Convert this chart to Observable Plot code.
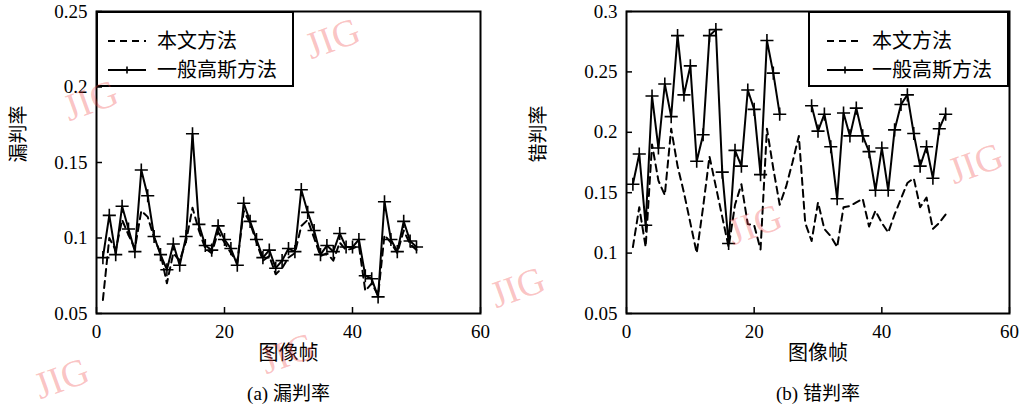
<!DOCTYPE html>
<html>
<head>
<meta charset="utf-8">
<script src="https://cdn.jsdelivr.net/npm/d3@7"></script>
<script src="https://cdn.jsdelivr.net/npm/@observablehq/plot@0.6"></script>
<style>
  body { margin: 0; background: #fff; }
  #wrap { position: relative; width: 1021px; height: 415px; overflow: hidden; background: #fff; }
  .panel { position: absolute; top: 0; }
  .panel g[aria-label="x-axis tick label"] text,
  .panel g[aria-label="y-axis tick label"] text { font-family: "Liberation Serif", "Times New Roman", serif; }
  .legend { position: absolute; }
  .wm { position: absolute; font-family: "Liberation Serif", serif; font-size: 38px; line-height: 1; color: rgba(240, 70, 70, 0.32); pointer-events: none; white-space: nowrap; transform-origin: center; }
</style>
</head>
<body>
<div id="wrap"></div>
<script>
// ---------- data ----------
const frames = [1,2,3,4,5,6,7,8,9,10,11,12,13,14,15,16,17,18,19,20,21,22,23,24,25,26,27,28,29,30,31,32,33,34,35,36,37,38,39,40,41,42,43,44,45,46,47,48,49,50];
const seriesNames = ["本文方法", "一般高斯方法"];
const xTicks = [0, 20, 40, 60];
const xLabel = "图像帧";

// (a) 漏判率
const leftYTicks = [0.05, 0.1, 0.15, 0.2, 0.25];
const leftOurs  = [0.059,0.100,0.092,0.112,0.102,0.093,0.118,0.114,0.100,0.090,0.070,0.090,0.085,0.098,0.120,0.105,0.093,0.090,0.104,0.097,0.090,0.084,0.118,0.110,0.097,0.085,0.088,0.076,0.080,0.087,0.090,0.108,0.112,0.100,0.088,0.090,0.085,0.097,0.092,0.093,0.095,0.065,0.070,0.062,0.102,0.097,0.090,0.105,0.096,0.092];
const leftGauss = [0.087,0.115,0.089,0.121,0.106,0.091,0.145,0.128,0.101,0.089,0.079,0.096,0.082,0.101,0.169,0.109,0.095,0.092,0.108,0.099,0.093,0.082,0.123,0.111,0.099,0.087,0.092,0.080,0.085,0.093,0.091,0.132,0.117,0.105,0.089,0.095,0.091,0.103,0.094,0.094,0.099,0.075,0.073,0.061,0.124,0.099,0.091,0.111,0.098,0.094];

// (b) 错判率
const rightYTicks = [0.05, 0.1, 0.15, 0.2, 0.25, 0.3];
const rightOurs  = [0.105,0.138,0.105,0.190,0.160,0.148,0.203,0.172,0.150,0.125,0.100,0.138,0.180,0.155,0.130,0.105,0.140,0.157,0.124,0.123,0.103,0.203,0.170,0.140,0.155,0.175,0.197,0.125,0.110,0.142,0.120,0.114,0.105,0.138,0.139,0.142,0.145,0.122,0.135,0.125,0.117,0.132,0.145,0.158,0.162,0.138,0.146,0.120,0.125,0.132];
const rightGauss = [0.157,0.182,0.123,0.230,0.187,0.240,0.213,0.280,0.231,0.255,0.176,0.198,0.280,0.285,0.167,0.108,0.185,0.172,0.235,0.219,0.165,0.276,0.249,0.215,null,null,null,null,0.222,0.201,0.215,0.188,0.145,0.216,0.197,0.220,0.197,0.184,0.152,0.187,0.152,0.202,0.223,0.231,0.199,0.172,0.188,0.162,0.203,0.215];

const panels = [
  { left: 0,   width: 510, marginLeft: 96,  marginRight: 30, yDomain: [0.05, 0.25], yTicks: leftYTicks,  ours: leftOurs,  gauss: leftGauss,  yLabel: "漏判率", yLabelDx: -78, caption: "(a) 漏判率",
    legend: { left: 96, top: 11, width: 198, height: 76, sx: 12, sw: 38, tx: 61 } },
  { left: 510, width: 511, marginLeft: 116, marginRight: 12, yDomain: [0.05, 0.3],  yTicks: rightYTicks, ours: rightOurs, gauss: rightGauss, yLabel: "错判率", yLabelDx: -88, caption: "(b) 错判率",
    legend: { left: 808, top: 11, width: 201, height: 76, sx: 19, sw: 36, tx: 64 } }
];

const serif = "'Liberation Serif', 'Times New Roman', serif";
const serifCjk = "'Liberation Serif', 'Noto Sans CJK SC', serif";
const cjk = "'Noto Sans CJK SC', sans-serif";
const wrap = document.getElementById("wrap");

for (const p of panels) {
  const rowsO = frames.map((f, i) => ({ f, v: p.ours[i] }));
  const rowsG = frames.map((f, i) => ({ f, v: p.gauss[i] }));
  const chart = Plot.plot({
    width: p.width,
    height: 415,
    marginTop: 11,
    marginBottom: 102,
    marginLeft: p.marginLeft,
    marginRight: p.marginRight,
    style: `font-family: ${serif}; font-size: 19px; color: #000; background: transparent; overflow: visible;`,
    x: { domain: [0, 60] },
    y: { domain: p.yDomain },
    marks: [
      Plot.axisX({ ticks: xTicks, tickSize: -6, tickFormat: () => "", label: null, strokeWidth: 1.5 }),
      Plot.axisX({ ticks: xTicks, tickSize: 0, tickPadding: 11, tickFormat: d => String(d), label: null, fontSize: 19, fontFamily: serif }),
      Plot.axisY({ ticks: p.yTicks, tickSize: -6, tickFormat: () => "", label: null, strokeWidth: 1.5 }),
      Plot.axisY({ ticks: p.yTicks, tickSize: 0, tickPadding: 9, tickFormat: d => String(+d.toFixed(2)), label: null, fontSize: 19, fontFamily: serif }),
      Plot.line(rowsO, { x: "f", y: "v", stroke: "#000", strokeWidth: 2, strokeDasharray: "7,5" }),
      Plot.line(rowsG, { x: "f", y: "v", stroke: "#000", strokeWidth: 2 }),
      Plot.dot(rowsG, { x: "f", y: "v", symbol: "plus", r: 4.3, stroke: "#000", strokeWidth: 1.6 }),
      Plot.frame({ stroke: "#000", strokeWidth: 2 }),
      Plot.text([xLabel], { text: d => d, frameAnchor: "bottom", dy: 46, fontSize: 20, fontFamily: cjk }),
      Plot.text([p.caption], { text: d => d, frameAnchor: "bottom", dy: 86, fontSize: 19, fontFamily: serifCjk }),
      Plot.text([p.yLabel], { text: d => d, frameAnchor: "left", dx: p.yLabelDx, rotate: -90, fontSize: 19, fontFamily: cjk })
    ]
  });
  chart.classList.add("panel");
  chart.style.left = p.left + "px";
  wrap.appendChild(chart);

  // legend box
  const L = p.legend;
  const svg = d3.create("svg").attr("class", "legend")
    .attr("width", L.width).attr("height", L.height)
    .style("left", L.left + "px").style("top", L.top + "px");
  svg.append("rect").attr("x", 1).attr("y", 1).attr("width", L.width - 2).attr("height", L.height - 2)
    .attr("fill", "#fff").attr("stroke", "#000").attr("stroke-width", 2);
  const rowsY = [30, 59];
  seriesNames.forEach((name, i) => {
    const y = rowsY[i];
    svg.append("line").attr("x1", L.sx).attr("x2", L.sx + L.sw).attr("y1", y).attr("y2", y)
      .attr("stroke", "#000").attr("stroke-width", 2)
      .attr("stroke-dasharray", i === 0 ? "7,5" : null);
    if (i === 1) {
      const cx = L.sx + L.sw / 2;
      svg.append("path").attr("d", `M${cx - 3.5},${y}H${cx + 3.5}M${cx},${y - 3.5}V${y + 3.5}`)
        .attr("stroke", "#000").attr("stroke-width", 1.6);
    }
    svg.append("text").attr("x", L.tx).attr("y", y).attr("dy", "0.35em")
      .attr("font-family", cjk).attr("font-size", 20).attr("fill", "#000").text(name);
  });
  wrap.appendChild(svg.node());
}

// watermarks (as in the source image)
const marks = [[335, 38], [93, 100], [520, 287], [290, 353], [64, 378], [757, 224], [978, 163]];
for (const [cx, cy] of marks) {
  const s = document.createElement("span");
  s.className = "wm";
  s.textContent = "JIG";
  s.style.left = (cx - 30) + "px";
  s.style.top = (cy - 19) + "px";
  s.style.transform = "rotate(-20deg)";
  wrap.appendChild(s);
}
</script>
</body>
</html>
